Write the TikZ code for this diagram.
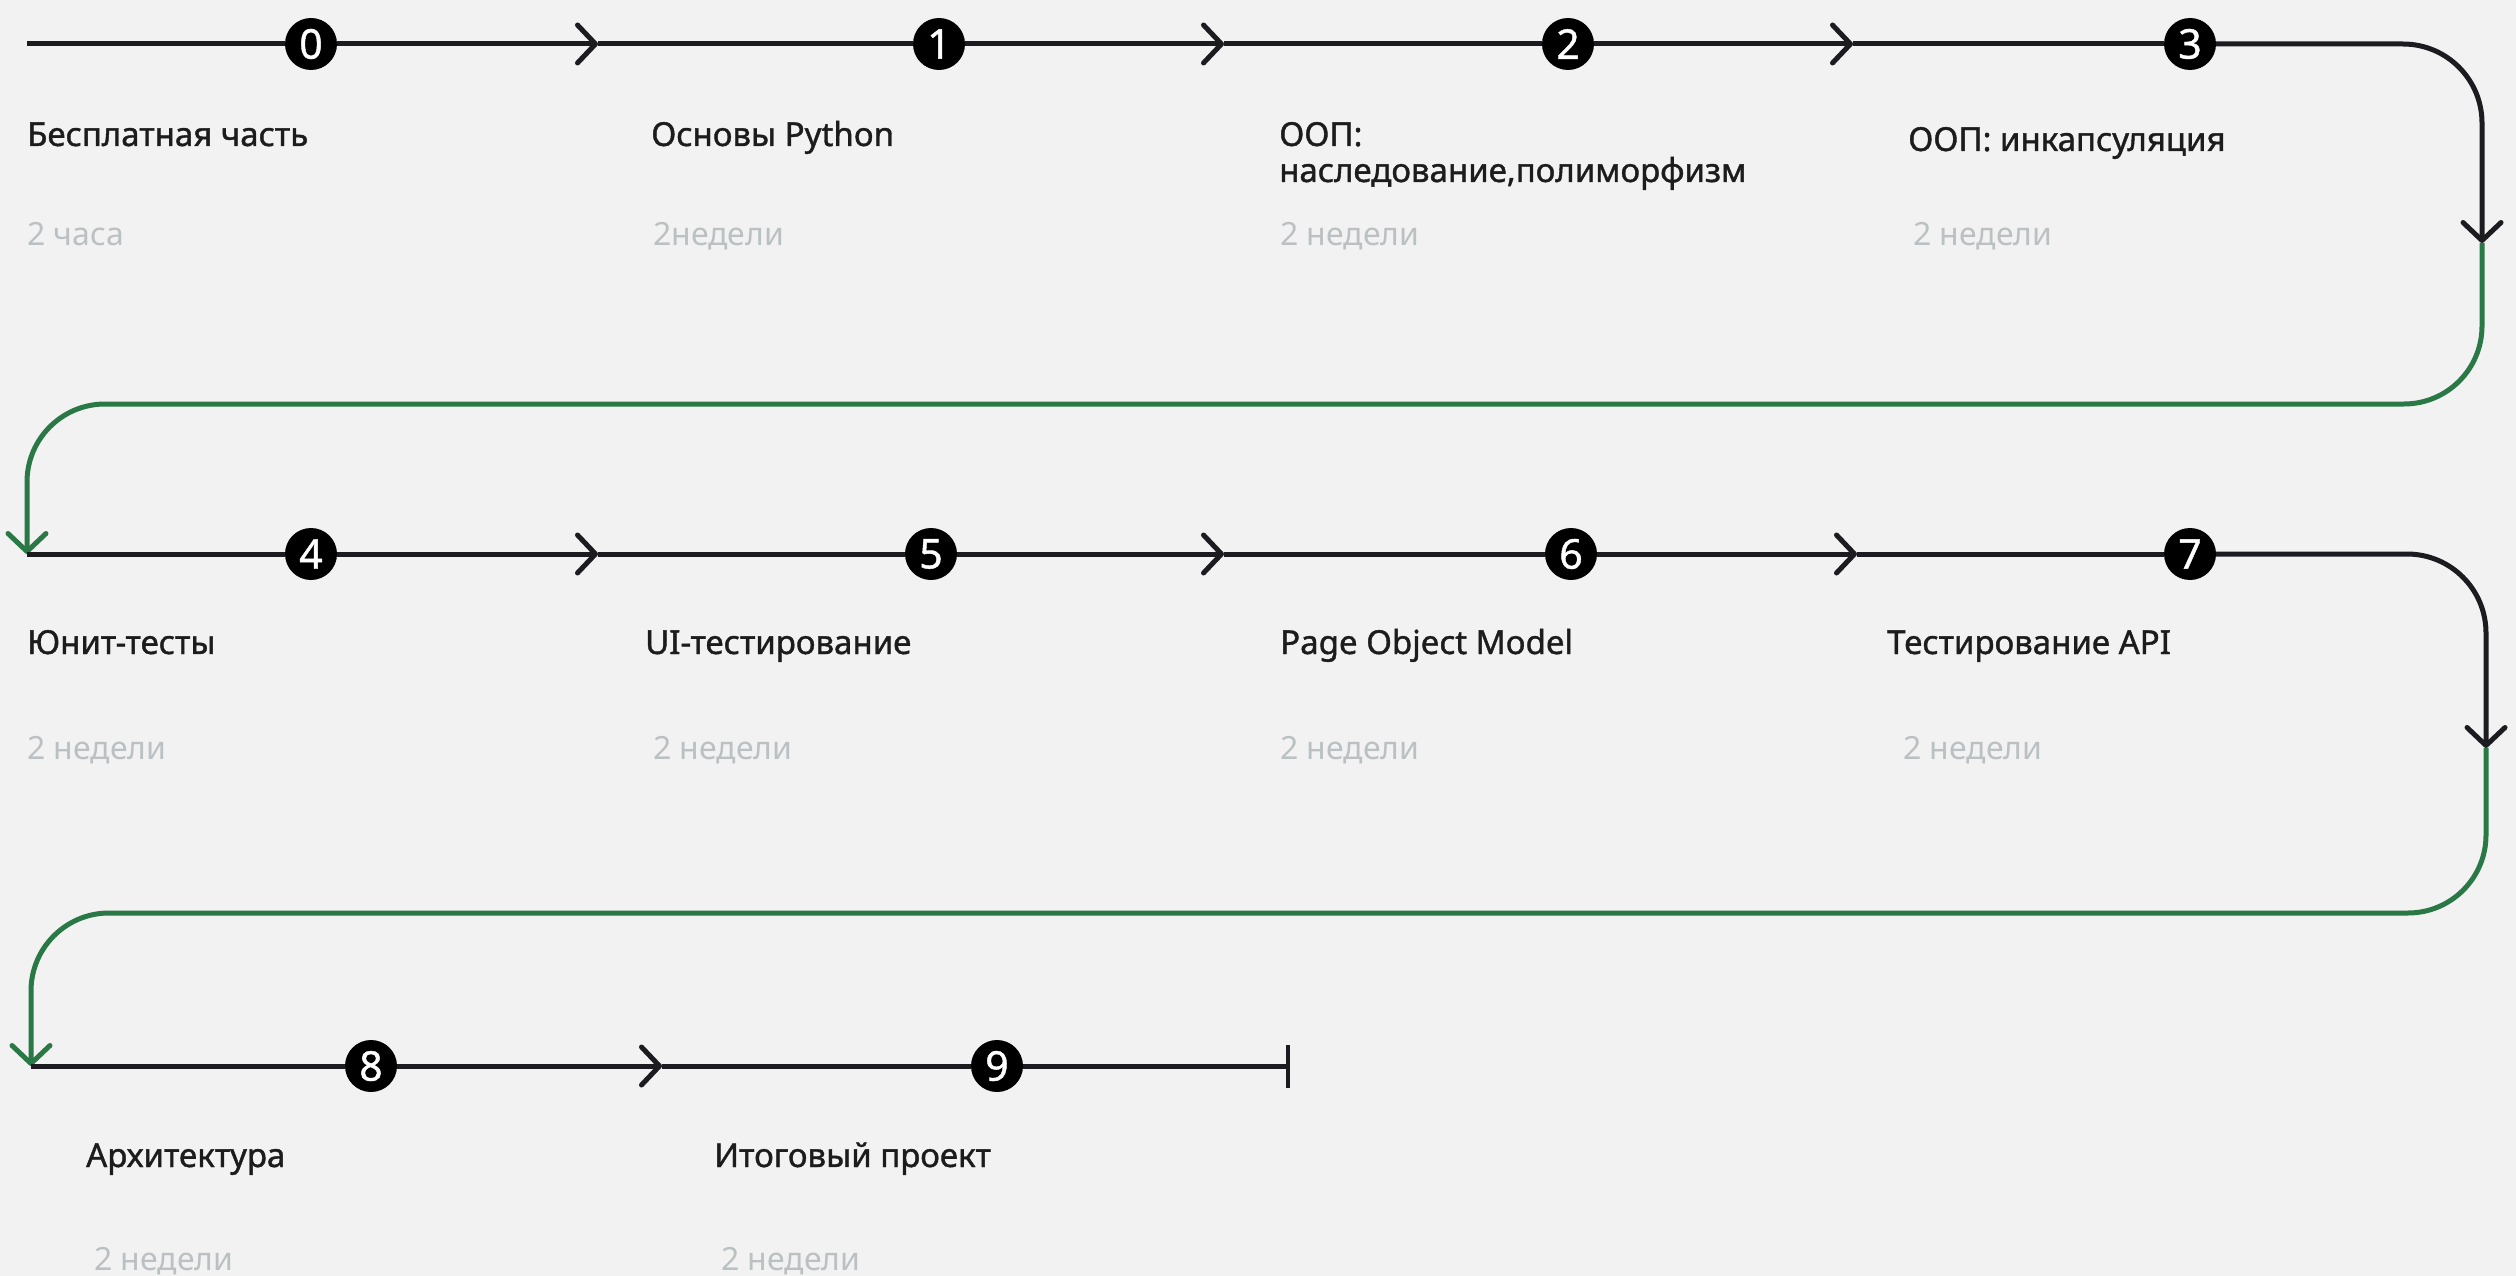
\documentclass[tikz,border=0pt]{standalone}
\usepackage{fontspec}
\setmainfont{Noto Sans}
\newfontfamily\titlefont[FakeBold=1.2]{Noto Sans}
\newfontfamily\numfont[FakeBold=1]{Noto Sans}
\usetikzlibrary{arrows.meta}
\definecolor{bg}{HTML}{F2F2F2}
\definecolor{ink}{HTML}{1B1B20}
\definecolor{grn}{HTML}{2A7845}
\definecolor{muted}{HTML}{BBC0C3}
\definecolor{txt}{HTML}{1C1C1C}
\tikzset{
  x=1pt, y=-1pt,
  chev/.tip={Straight Barb[length=18pt,width=38pt,round]},
  track/.style={draw=ink, line width=5pt},
  gtrack/.style={draw=grn, line width=5pt},
  num/.style={circle, fill=black, minimum size=52pt, inner sep=0pt, text=white,
    font=\numfont\fontsize{41}{41}\selectfont},
  ttl/.style={anchor=base west, inner sep=0pt, text=txt, align=left,
    font=\titlefont\fontsize{33}{36}\selectfont},
  dur/.style={anchor=base west, inner sep=0pt, text=muted,
    font=\fontsize{32}{36}\selectfont},
}
\begin{document}
\begin{tikzpicture}
\fill[bg] (0,0) rectangle (2516,1276);
\useasboundingbox (0,0) rectangle (2516,1276);
% row 1
\coordinate (s1) at (27,44);
\node[num] (c0) at (311,44) {0};
\node[num] (c1) at (939,44) {1};
\node[num] (c2) at (1568,44) {2};
\node[num] (c3) at (2190,44) {3};
\coordinate (a1) at (598,44);
\coordinate (a2) at (1224,44);
\coordinate (a3) at (1853,44);
\coordinate (r1) at (2482,243);
\coordinate (s2) at (27,554);
\draw[track] (s1) -- (c0);
\draw[track,-{chev}] (c0) -- (a1);
\draw[track] (a1) -- (c1);
\draw[track,-{chev}] (c1) -- (a2);
\draw[track] (a2) -- (c2);
\draw[track,-{chev}] (c2) -- (a3);
\draw[track] (a3) -- (c3);
\draw[track,rounded corners=79pt,-{chev}] (c3) -| (r1);
\draw[gtrack,rounded corners=78pt,-{chev}] (r1) -- (2482,404) -- (27,404) -- (s2);
% row 2
\node[num] (c4) at (311,554) {4};
\node[num] (c5) at (931,554) {5};
\node[num] (c6) at (1571,554) {6};
\node[num] (c7) at (2190,554) {7};
\coordinate (a4) at (598,554);
\coordinate (a5) at (1224,554);
\coordinate (a6) at (1857,554);
\coordinate (r2) at (2486,748);
\coordinate (s3) at (31,1066);
\draw[track] (s2) -- (c4);
\draw[track,-{chev}] (c4) -- (a4);
\draw[track] (a4) -- (c5);
\draw[track,-{chev}] (c5) -- (a5);
\draw[track] (a5) -- (c6);
\draw[track,-{chev}] (c6) -- (a6);
\draw[track] (a6) -- (c7);
\draw[track,rounded corners=79pt,-{chev}] (c7) -| (r2);
\draw[gtrack,rounded corners=78pt,-{chev}] (r2) -- (2486,913) -- (31,913) -- (s3);
% row 3
\node[num] (c8) at (371,1066) {8};
\node[num] (c9) at (997,1066) {9};
\coordinate (a7) at (662,1066);
\coordinate (e3) at (1288,1066);
\draw[track] (s3) -- (c8);
\draw[track,-{chev}] (c8) -- (a7);
\draw[track] (a7) -- (c9);
\draw[track] (c9) -- (e3);
\draw[ink, line width=4.5pt] (1288,1045) -- (1288,1088);
% texts row 1
\node[ttl] (t0) at (27,146) {Бесплатная часть};
\node[ttl] (t1) at (651,146) {Основы Python};
\node[ttl] (t2) at (1279,182) {ООП:\\наследование,полиморфизм};
\node[ttl] (t3) at (1908,151) {ООП: инкапсуляция};
\node[dur] (d0) at (27,245) {2 часа};
\node[dur] (d1) at (653,245) {2недели};
\node[dur] (d2) at (1280,245) {2 недели};
\node[dur] (d3) at (1913,245) {2 недели};
% texts row 2
\node[ttl] (t4) at (27,654) {Юнит-тесты};
\node[ttl] (t5) at (645,654) {UI-тестирование};
\node[ttl] (t6) at (1280,654) {Page Object Model};
\node[ttl] (t7) at (1887,654) {Тестирование API};
\node[dur] (d4) at (27,759) {2 недели};
\node[dur] (d5) at (653,759) {2 недели};
\node[dur] (d6) at (1280,759) {2 недели};
\node[dur] (d7) at (1903,759) {2 недели};
% texts row 3
\node[ttl] (t8) at (86,1167) {Архитектура};
\node[ttl] (t9) at (714,1167) {Итоговый проект};
\node[dur] (d8) at (94,1270) {2 недели};
\node[dur] (d9) at (721,1270) {2 недели};
\end{tikzpicture}
\end{document}
